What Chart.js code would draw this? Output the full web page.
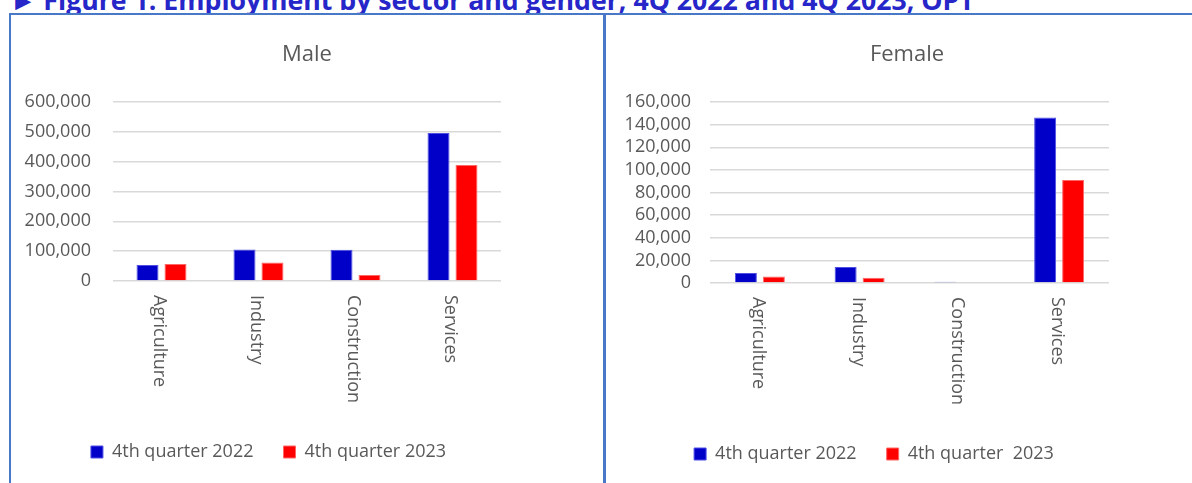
<!DOCTYPE html>
<html><head><meta charset="utf-8">
<script src="https://cdn.jsdelivr.net/npm/chart.js@4/dist/chart.umd.min.js"></script>
<style>
html,body{margin:0;padding:0;background:#fff;width:1192px;height:483px;overflow:hidden;position:relative;font-family:"Open Sans",sans-serif;}
#title{position:absolute;left:10px;top:-14px;font:bold 26.7px "Open Sans";color:#2626c9;white-space:nowrap;line-height:27px;z-index:0;}
#sheet{position:absolute;left:0;top:13px;width:1192px;height:470px;background:#fff;z-index:1;}
#frameTop{position:absolute;left:9px;top:13px;width:1183px;height:2px;background:#4a78c8;z-index:2;}
#frameLeft{position:absolute;left:9px;top:13px;width:2px;height:470px;background:#4a78c8;z-index:2;}
#divider{position:absolute;left:603px;top:13px;width:3px;height:470px;background:#4a78c8;z-index:2;}
.ct{position:absolute;font:22px "Open Sans";color:#595959;transform:translateX(-50%);white-space:nowrap;top:37px;line-height:30px;z-index:3;}
.cw{position:absolute;top:15px;height:468px;z-index:2;}
canvas{display:block;}
</style>
</head><body>
<div id="title">&#9658; Figure 1: Employment by sector and gender, 4Q 2022 and 4Q 2023, OPT</div>
<div id="sheet"></div>
<div id="frameTop"></div><div id="frameLeft"></div><div id="divider"></div>
<div class="ct" style="left:307px">Male</div>
<div class="ct" style="left:907px">Female</div>
<div class="cw" style="left:11px;width:592px"><canvas id="male" width="592" height="468"></canvas></div>
<div class="cw" style="left:606px;width:586px"><canvas id="female" width="586" height="468"></canvas></div>
<script>
const categories = ['Agriculture', 'Industry', 'Construction', 'Services'];
const maleQ4_2022 = [54000, 106000, 105000, 496000];
const maleQ4_2023 = [57000, 62000, 20000, 389000];
const femaleQ4_2022 = [8800, 14100, 1100, 146300];
const femaleQ4_2023 = [5800, 4700, 0, 91000];
const maleTicks = [0, 100000, 200000, 300000, 400000, 500000, 600000];
const femaleTicks = [0, 20000, 40000, 60000, 80000, 100000, 120000, 140000, 160000];
const maleLegend = ['4th quarter 2022', '4th quarter 2023'];
const femaleLegend = ['4th quarter 2022', '4th quarter  2023'];

const GREY = '#595959';
const FONT = '"Open Sans", sans-serif';

const rotLabels = {
  id: 'rotLabels',
  afterDraw(chart) {
    const xs = chart.scales.x, ctx = chart.ctx;
    ctx.save();
    ctx.font = '18px ' + FONT;
    ctx.fillStyle = GREY;
    ctx.textAlign = 'left';
    ctx.textBaseline = 'middle';
    chart.data.labels.forEach((lab, i) => {
      const px = xs.getPixelForTick(i);
      ctx.save();
      ctx.translate(px - 2, chart.chartArea.bottom + 14);
      ctx.rotate(Math.PI / 2);
      ctx.fillText(lab, 0, 0);
      ctx.restore();
    });
    ctx.restore();
  }
};

const legendShift = {
  id: 'legendShift',
  afterLayout(chart, args, opts) {
    const lg = chart.legend;
    if (!lg || opts.center == null) return;
    const shift = opts.center - (lg.left + lg.right) / 2;
    lg.left += shift;
    lg.right += shift;
  }
};

function makeChart(id, d1, d2, ticks, legendLabels, cfg) {
  const step = ticks[1] - ticks[0];
  return new Chart(document.getElementById(id), {
    type: 'bar',
    data: {
      labels: categories,
      datasets: [
        { label: legendLabels[0], data: d1, backgroundColor: '#0000c8', borderColor: '#4f4fe6', borderWidth: 1, borderSkipped: 'bottom',
          categoryPercentage: cfg.cat, barPercentage: 0.786 },
        { label: legendLabels[1], data: d2, backgroundColor: '#ff0000', borderColor: '#ff6666', borderWidth: 1, borderSkipped: 'bottom',
          categoryPercentage: cfg.cat, barPercentage: 0.786 }
      ]
    },
    options: {
      responsive: false, animation: false, devicePixelRatio: 1,
      layout: { padding: { left: 0, right: cfg.padR, top: 87, bottom: cfg.padB } },
      plugins: {
        title: { display: false },
        tooltip: { enabled: false },
        legendShift: { center: cfg.legendCenter },
        legend: {
          position: 'bottom',
          labels: { boxWidth: 12, boxHeight: 12, padding: 30, color: GREY, font: { family: FONT, size: 18 } }
        }
      },
      scales: {
        x: {
          grid: { display: false }, border: { display: false },
          ticks: { display: false },
          afterFit(s) { s.height = 132; }
        },
        y: {
          min: ticks[0], max: ticks[ticks.length - 1],
          grid: { color: '#d9d9d9', lineWidth: 1.5, drawTicks: false },
          border: { display: false },
          ticks: { stepSize: step, autoSkip: false, padding: cfg.tickPad, color: GREY, font: { family: FONT, size: 18 },
                   callback: v => v.toLocaleString('en-US') },
          afterFit(s) { s.width = cfg.yW; }
        }
      }
    },
    plugins: [rotLabels, legendShift]
  });
}

makeChart('male', maleQ4_2022, maleQ4_2023, maleTicks, maleLegend,
  { cat: 0.577, padR: 102, padB: 12, yW: 102, tickPad: 22, legendCenter: 257.5 });
makeChart('female', femaleQ4_2022, femaleQ4_2023, femaleTicks, femaleLegend,
  { cat: 0.561, padR: 83, padB: 10, yW: 104, tickPad: 19, legendCenter: 268 });
</script>
</body></html>
